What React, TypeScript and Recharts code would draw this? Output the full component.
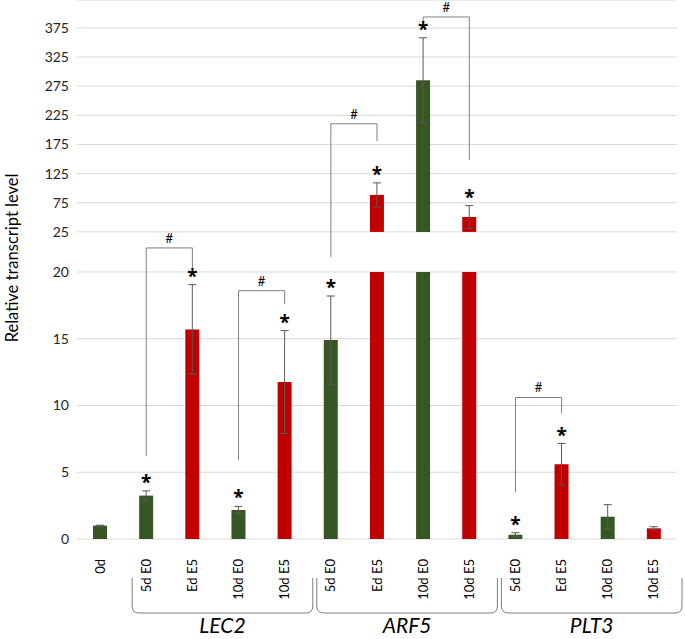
import {
    ComposedChart,
    Bar,
    Cell,
    XAxis,
    YAxis,
    CartesianGrid,
    ErrorBar,
    Line,
    LabelList,
    ReferenceLine,
} from "recharts";

const GREEN = "#375623";
const RED = "#C00000";
const FONT = "Lato, 'Open Sans', sans-serif";

// bar labels, left to right
const categories = [
    "0d",
    "5d E0", "Ed E5", "10d E0", "10d E5",
    "5d E0", "Ed E5", "10d E0", "10d E5",
    "5d E0", "Ed E5", "10d E0", "10d E5",
];
const values = [1.0, 3.25, 15.7, 2.17, 11.76, 14.9, 88.5, 285, 50.7, 0.32, 5.6, 1.67, 0.8];
const errors = [0.03, 0.35, 3.35, 0.27, 3.85, 3.3, 20.6, 73, 19.5, 0.15, 1.55, 0.9, 0.12];
const significant = [false, true, true, true, true, true, true, true, true, true, true, false, false];
const isE5 = [false, false, true, false, true, false, true, false, true, false, true, false, true];

const groups = [
    { name: "LEC2", first: 1, last: 4 },
    { name: "ARF5", first: 5, last: 8 },
    { name: "PLT3", first: 9, last: 12 },
];

const yTickValues = [0, 5, 10, 15, 20, 25, 75, 125, 175, 225, 275, 325, 375];

// broken axis: 0-20 linear, white gap, then 25-375 compressed
const BREAK_LOW = 20;
const BREAK_HIGH = 25;
const GAP = 3;
const UPPER_SCALE = 0.04366;
const Y_MAX = 40.37;

const toAxis = (v: number) =>
    v <= BREAK_LOW ? v : v < BREAK_HIGH ? BREAK_LOW : BREAK_LOW + GAP + (v - BREAK_HIGH) * UPPER_SCALE;

// "#" brackets between bar pairs, heights in axis units
const pairs = [
    { a: 1, b: 2, aFrom: 6.2, bFrom: 20.3, top: 21.8 },
    { a: 3, b: 4, aFrom: 5.9, bFrom: 17.6, top: 18.6 },
    { a: 5, b: 6, aFrom: 21.1, bFrom: 29.8, top: 31.1 },
    { a: 7, b: 8, aFrom: 38.6, bFrom: 28.4, top: 39.1 },
    { a: 9, b: 10, aFrom: 3.5, bFrom: 9.4, top: 10.6 },
];

const rows = categories.map((c, i) => {
    const v = values[i];
    const e = errors[i];
    return {
        key: `c${i}`,
        label: c,
        lower: Math.min(v, BREAK_LOW),
        gap: v > BREAK_LOW ? GAP : 0,
        upper: v > BREAK_HIGH ? (v - BREAK_HIGH) * UPPER_SCALE : 0,
        errLower: v <= BREAK_LOW ? e : 0,
        errUpper: v > BREAK_HIGH ? e * UPPER_SCALE : 0,
        star: significant[i] ? toAxis(v + e) : null,
    };
});

const W = 685;
const H = 639;
const PLOT_LEFT = 77;
const PLOT_RIGHT = 677;
const BAND = (PLOT_RIGHT - PLOT_LEFT) / categories.length;

const XTick = (props: any) => {
    const { x, y, index } = props;
    return (
        <text
            transform={`translate(${x + 4.5},${y + 12}) rotate(-90)`}
            textAnchor="end"
            fontSize={13}
            fontFamily={FONT}
            fill="#000"
        >
            {categories[index]}
        </text>
    );
};

const StarLabel = (props: any) => {
    const { x, y, value } = props;
    if (value == null) return null;
    return (
        <text
            x={x}
            y={y - 2}
            textAnchor="middle"
            fontSize={19}
            fontWeight="bold"
            fontFamily="'Open Sans', sans-serif"
            fill="#000"
        >
            *
        </text>
    );
};

export default function App() {
    return (
        <div style={{ position: "absolute", left: 0, top: 0, width: W, height: H, background: "#fff" }}>
            <ComposedChart
                width={W}
                height={H}
                data={rows}
                margin={{ top: 0, right: W - PLOT_RIGHT, left: 0, bottom: 0 }}
                barCategoryGap={0}
            >
                <CartesianGrid vertical={false} stroke="#d9d9d9" />
                <XAxis
                    dataKey="key"
                    interval={0}
                    tick={<XTick />}
                    tickLine={false}
                    axisLine={false}
                    height={100}
                />
                <YAxis
                    type="number"
                    domain={[0, Y_MAX]}
                    ticks={yTickValues.map(toAxis)}
                    tickFormatter={(_v: number, i: number) => String(yTickValues[i])}
                    width={PLOT_LEFT}
                    axisLine={false}
                    tickLine={false}
                    tick={{ fontSize: 14, fill: "#262626", fontFamily: FONT }}
                    label={{
                        content: () => (
                            <text
                                transform="translate(18,258) rotate(-90)"
                                textAnchor="middle"
                                fontSize={16.5}
                                fontFamily={FONT}
                                fill="#000"
                            >
                                Relative transcript level
                            </text>
                        ),
                    }}
                />
                <Bar dataKey="lower" stackId="s" barSize={14} isAnimationActive={false}>
                    {rows.map((_, i) => (
                        <Cell key={i} fill={isE5[i] ? RED : GREEN} />
                    ))}
                    <ErrorBar dataKey="errLower" width={4} stroke="#595959" strokeWidth={1} />
                </Bar>
                <Bar dataKey="gap" stackId="s" barSize={14} fill="transparent" isAnimationActive={false} />
                <Bar dataKey="upper" stackId="s" barSize={14} isAnimationActive={false}>
                    {rows.map((_, i) => (
                        <Cell key={i} fill={isE5[i] ? RED : GREEN} />
                    ))}
                    <ErrorBar dataKey="errUpper" width={4} stroke="#595959" strokeWidth={1} />
                </Bar>
                <Line
                    dataKey="star"
                    stroke="none"
                    dot={false}
                    activeDot={false}
                    isAnimationActive={false}
                    legendType="none"
                >
                    <LabelList dataKey="star" content={StarLabel} />
                </Line>
                {pairs.map((p, k) => [
                    <ReferenceLine
                        key={`a${k}`}
                        segment={[{ x: `c${p.a}`, y: p.aFrom }, { x: `c${p.a}`, y: p.top }]}
                        stroke="#7f7f7f"
                    />,
                    <ReferenceLine
                        key={`t${k}`}
                        segment={[{ x: `c${p.a}`, y: p.top }, { x: `c${p.b}`, y: p.top }]}
                        stroke="#7f7f7f"
                        label={{ value: "#", position: "top", fontSize: 13, fill: "#000", fontFamily: FONT }}
                    />,
                    <ReferenceLine
                        key={`b${k}`}
                        segment={[{ x: `c${p.b}`, y: p.top }, { x: `c${p.b}`, y: p.bFrom }]}
                        stroke="#7f7f7f"
                    />,
                ])}
            </ComposedChart>
            <svg width={W} height={H} style={{ position: "absolute", left: 0, top: 0, pointerEvents: "none" }}>
                {groups.map((g) => {
                    const x1 = PLOT_LEFT + BAND * g.first + 9;
                    const x2 = PLOT_LEFT + BAND * (g.last + 1) + 5;
                    return (
                        <g key={g.name}>
                            <path
                                d={`M${x1},578 L${x1},606 Q${x1},613 ${x1 + 7},613 L${x2 - 7},613 Q${x2},613 ${x2},606 L${x2},578`}
                                fill="none"
                                stroke="#7f7f7f"
                                strokeWidth={1}
                            />
                            <text
                                x={(x1 + x2) / 2}
                                y={633}
                                textAnchor="middle"
                                fontSize={21}
                                fontStyle="italic"
                                fontFamily={FONT}
                                fill="#000"
                            >
                                {g.name}
                            </text>
                        </g>
                    );
                })}
            </svg>
        </div>
    );
}
